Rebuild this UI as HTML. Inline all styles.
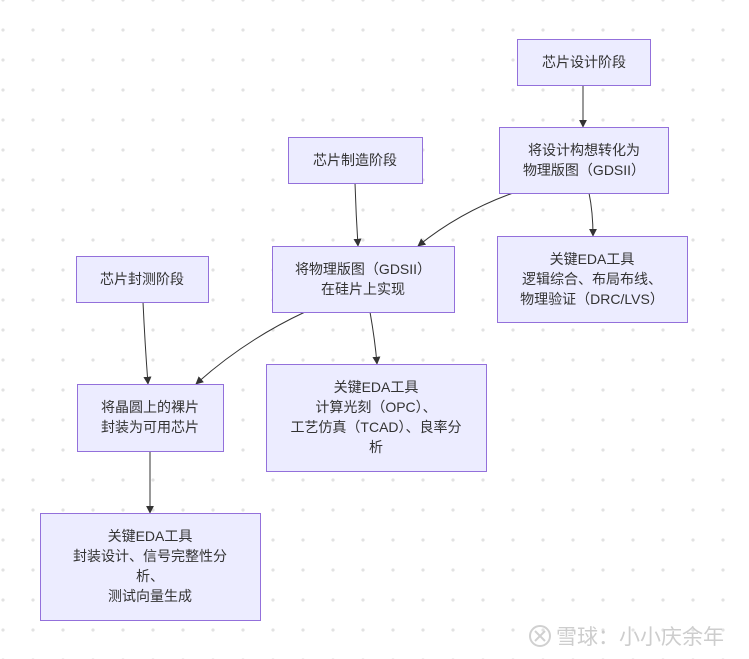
<!DOCTYPE html>
<html><head><meta charset="utf-8">
<style>
html,body{margin:0;padding:0;background:#fff;}
svg{display:block;}
text{font-family:"Liberation Sans","Noto Sans CJK SC",sans-serif;font-size:14px;fill:#333;text-anchor:middle;}
</style></head><body>
<svg width="749" height="659" viewBox="0 0 749 659" xmlns="http://www.w3.org/2000/svg">
<defs>
<pattern id="dots" x="3" y="0" width="30" height="30" patternUnits="userSpaceOnUse">
<circle cx="0" cy="0" r="1.6" fill="#e2e2e2"/><circle cx="30" cy="0" r="1.6" fill="#e2e2e2"/>
<circle cx="0" cy="30" r="1.6" fill="#e2e2e2"/><circle cx="30" cy="30" r="1.6" fill="#e2e2e2"/>
</pattern>
<marker id="ar" viewBox="0 0 10 10" refX="9" refY="5" markerWidth="8" markerHeight="8" orient="auto-start-reverse" markerUnits="userSpaceOnUse">
<path d="M0,0 L10,5 L0,10 z" fill="#333"/></marker>
</defs>
<rect width="749" height="659" fill="url(#dots)"/>
<g fill="none" stroke="#333" stroke-width="1" marker-end="url(#ar)">
<path d="M583,85 L583,127"/>
<path d="M589,193 Q593,212 593,236"/>
<path d="M355,183 Q356,215 358,246"/>
<path d="M513,193 Q460,212 418,246"/>
<path d="M305,312 Q245,340 196,384"/>
<path d="M370,312 Q375,340 377,364"/>
<path d="M143,302 Q145,345 148,384"/>
<path d="M150,451 L150,513"/>
</g>
<g fill="#ECECFF" stroke="#9370DB" stroke-width="1">
<rect x="517.5" y="39.5" width="133" height="46"/>
<rect x="499.5" y="127.5" width="169" height="66"/>
<rect x="288.5" y="137.5" width="134" height="46"/>
<rect x="272.5" y="246.5" width="182" height="66"/>
<rect x="497.5" y="236.5" width="190" height="86"/>
<rect x="76.5" y="256.5" width="132" height="46"/>
<rect x="77.5" y="384.5" width="146" height="67"/>
<rect x="266.5" y="364.5" width="220" height="107"/>
<rect x="40.5" y="513.5" width="220" height="107"/>
</g>
<text x="584" y="67">芯片设计阶段</text>
<text x="584" y="155">将设计构想转化为</text>
<text x="584" y="175">物理版图（GDSII）</text>
<text x="355" y="165">芯片制造阶段</text>
<text x="363" y="274">将物理版图（GDSII）</text>
<text x="363" y="294">在硅片上实现</text>
<text x="592" y="264">关键EDA工具</text>
<text x="592" y="284">逻辑综合、布局布线、</text>
<text x="592" y="304">物理验证（DRC/LVS）</text>
<text x="142" y="284">芯片封测阶段</text>
<text x="150" y="412">将晶圆上的裸片</text>
<text x="150" y="432">封装为可用芯片</text>
<text x="376" y="392">关键EDA工具</text>
<text x="376" y="412">计算光刻（OPC）、</text>
<text x="376" y="432">工艺仿真（TCAD）、良率分</text>
<text x="376" y="452">析</text>
<text x="150" y="541">关键EDA工具</text>
<text x="150" y="561">封装设计、信号完整性分</text>
<text x="150" y="581">析、</text>
<text x="150" y="601">测试向量生成</text>
<g opacity="0.9">
<circle cx="540" cy="636" r="10" fill="none" stroke="#ccc" stroke-width="2"/>
<path d="M535,631 L545,641 M545,631 L535,641" stroke="#ccc" stroke-width="2"/>
<text x="640" y="644" style="font-size:21px;fill:#c8c8c8;">雪球：小小庆余年</text>
</g>
</svg>
</body></html>
